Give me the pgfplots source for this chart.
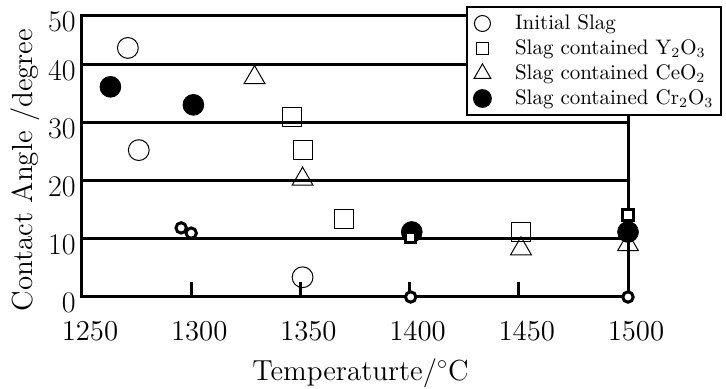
\documentclass[border=0pt]{standalone}
\usepackage{pgfplots}
\pgfplotsset{compat=1.18}
\begin{document}
\begin{tikzpicture}
\useasboundingbox (-41pt,-46pt) rectangle (322pt,148.5pt);
\begin{axis}[
  at={(0pt,0pt)}, anchor=south west,
  scale only axis, width=273pt, height=140.5pt,
  xmin=1250, xmax=1500, ymin=0, ymax=48.4,
  axis line style={line width=1.5pt},
  xtick={1250,1300,...,1500},
  ytick={10,20,30,40,48.4},
  yticklabels={10,20,30,40,50},
  extra y ticks={0},
  extra y tick labels={0},
  extra y tick style={grid=none, yticklabel style={yshift=0pt}},
  /pgf/number format/1000 sep={},
  ymajorgrids, grid style={black,line width=1.5pt},
  tick align=inside, xtick pos=lower, ytick pos=left,
  major tick length=7.5pt,
  x tick style={line width=1.5pt, black},
  y tick style={draw=none},
  ticklabel style={font=\fontsize{15}{18}\selectfont, inner sep=1pt},
  xticklabel style={yshift=-11.5pt, xshift=4pt},
  yticklabel style={yshift=-3pt, xshift=-2pt},
  xlabel={Temperaturte/${}^{\circ}$C},
  ylabel={Contact Angle /degree},
  label style={font=\fontsize{14.5}{17}\selectfont},
  xlabel style={at={(axis description cs:0.51,-0.27)}, anchor=center},
  ylabel style={at={(axis description cs:-0.104,0.452)}, anchor=center},
  legend style={at={(1.172,1.0356)}, anchor=north east, draw=black, line width=1pt, fill=white,
    font=\fontsize{10.5}{12}\selectfont, nodes={inner sep=1.8pt}, inner sep=2pt},
  legend cell align=left,
  legend image code/.code={\path (-5pt,0pt) (14pt,0pt); \draw[#1] plot coordinates {(0pt,0pt)};},
]
% CeO2 triangles
\addplot[only marks, mark=triangle, mark size=6pt, mark options={black, line width=0.5pt}, forget plot]
  coordinates {(1329,37.8) (1351,20.3) (1451,8.3) (1500,9.0)};
% Y2O3 squares (large)
\addplot[only marks, mark=square, mark size=4.75pt, mark options={black, line width=0.5pt}, forget plot]
  coordinates {(1346,31.0) (1351,25.3) (1370,13.4) (1451,11.2)};
% Initial slag (large open circles)
\addplot[only marks, mark=o, mark size=5.2pt, mark options={black, line width=0.5pt}, forget plot]
  coordinates {(1271,42.9) (1276,25.3) (1351,3.4)};
% Cr2O3 filled circles
\addplot[only marks, mark=*, mark size=5.2pt, mark options={black, fill=black}, forget plot]
  coordinates {(1263,36.2) (1301,33.1) (1401,11.2) (1500,11.2)};
% Y2O3 squares (small, thick)
\addplot[only marks, mark=square*, mark size=2.6pt, mark options={draw=black, fill=white, line width=1.5pt}, forget plot]
  coordinates {(1400.5,10.2) (1500,14.1)};
% Initial slag (small, thick)
\addplot[only marks, mark=*, mark size=2.6pt, mark options={draw=black, fill=white, line width=1.5pt}, forget plot]
  coordinates {(1295.4,11.9) (1300,11.0) (1400.5,0) (1500,0)};
\addlegendimage{only marks, mark=o, mark size=4pt, mark options={black, line width=0.5pt}}
\addlegendentry{Initial Slag}
\addlegendimage{only marks, mark=square, mark size=3pt, mark options={black, line width=0.5pt}}
\addlegendentry{Slag contained Y$_2$O$_3$}
\addlegendimage{only marks, mark=triangle, mark size=4.8pt, mark options={black, line width=0.5pt}}
\addlegendentry{Slag contained CeO$_2$}
\addlegendimage{only marks, mark=*, mark size=4.2pt, mark options={black, fill=black}}
\addlegendentry{Slag contained Cr$_2$O$_3$}
\end{axis}
\end{tikzpicture}
\end{document}
